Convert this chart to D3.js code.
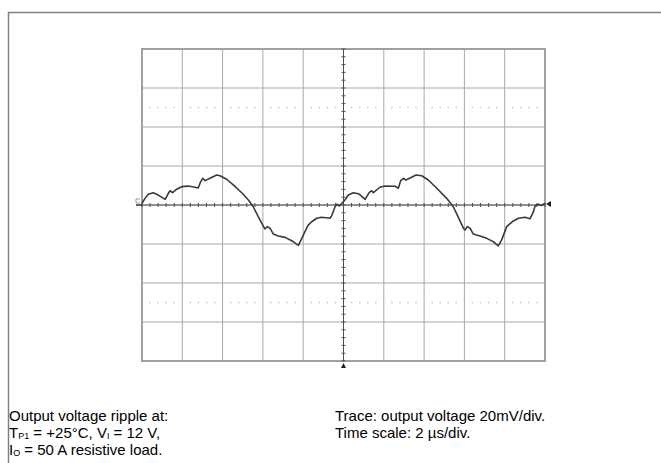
<!DOCTYPE html>
<html>
<head>
<meta charset="utf-8">
<script src="https://cdn.jsdelivr.net/npm/d3@7"></script>
<style>
  html, body { margin: 0; padding: 0; background: #fff; }
  svg { display: block; }
  text { font-family: "Liberation Sans", Arial, sans-serif; fill: #000; }
</style>
</head>
<body>
<script>
// Time axis in microseconds (2 µs/div), voltage in mV (20 mV/div)
const timeUs = [-10.0,-9.85,-9.69,-9.44,-9.19,-8.85,-8.69,-8.61,-8.48,-8.28,-8.03,-7.70,-7.37,-7.21,-7.09,-6.99,-6.87,-6.63,-6.29,-6.13,-5.80,-5.47,-5.05,-4.72,-4.48,-4.23,-3.98,-3.90,-3.78,-3.65,-3.48,-3.24,-2.90,-2.57,-2.24,-2.07,-1.83,-1.75,-1.58,-1.33,-1.08,-0.67,-0.59,-0.42,-0.34,-0.21,-0.01,0.07,0.24,0.49,0.78,1.07,1.28,1.40,1.48,1.81,2.06,2.56,2.72,2.84,2.97,3.10,3.38,3.60,3.88,4.21,4.63,5.12,5.45,5.70,5.95,6.03,6.14,6.28,6.44,6.77,7.11,7.43,7.68,7.85,8.10,8.18,8.43,8.68,9.01,9.26,9.39,9.51,9.67,9.84,10.0];
const rippleMv = [0.9,3.4,5.5,6.3,5.1,2.9,6.0,7.3,6.3,8.1,9.4,9.7,9.1,8.7,11.9,13.7,12.5,13.7,15.4,15.0,13.2,10.3,6.3,2.6,-0.9,-6.0,-10.8,-12.3,-11.1,-11.9,-14.9,-15.9,-16.6,-18.3,-20.7,-17.1,-11.9,-10.3,-8.6,-6.8,-6.3,-6.8,-5.6,-0.9,0.4,-0.5,1.7,2.6,5.1,6.3,5.6,2.9,6.5,7.3,6.3,9.1,9.7,9.6,8.6,12.5,13.7,12.8,14.2,15.4,15.0,12.8,8.6,3.4,-0.9,-6.3,-11.9,-12.8,-11.1,-11.9,-14.9,-15.9,-17.1,-18.8,-21.0,-17.9,-11.1,-10.3,-8.2,-6.8,-6.3,-7.0,-4.3,-0.5,0.4,-0.2,0.9];

const timeDomain = [-10, 10];   // 10 divisions × 2 µs
const voltDomain = [-80, 80];   // 8 divisions × 20 mV
const timePerDiv = 2;
const voltPerDiv = 20;
const dottedLevels = [-50, 50];  // dotted reference lines at ±2.5 div

const captionLeft = [
  [{t: "Output voltage ripple at:"}],
  [{t: "T"}, {t: "P1", sub: true}, {t: " = +25°C, V"}, {t: "I", sub: true}, {t: " = 12 V,"}],
  [{t: "I"}, {t: "O", sub: true}, {t: " = 50 A resistive load."}]
];
const captionRight = ["Trace: output voltage 20mV/div.", "Time scale: 2 µs/div."];

const W = 661, H = 463;
const svg = d3.select("body").append("svg").attr("width", W).attr("height", H);

// outer frame
svg.append("path").attr("d", `M8.5,${H} V12.5 H${W}`)
  .attr("fill", "none").attr("stroke", "#808080").attr("stroke-width", 1.5);

const x = d3.scaleLinear().domain(timeDomain).range([142, 545]);
const y = d3.scaleLinear().domain(voltDomain).range([361, 49]);

const g = svg.append("g");

const majorX = d3.range(timeDomain[0], timeDomain[1] + 0.001, timePerDiv);
const majorY = d3.range(voltDomain[0], voltDomain[1] + 0.001, voltPerDiv);

// grid
g.selectAll("line.gx").data(majorX.slice(1, -1)).join("line")
  .attr("x1", d => x(d)).attr("x2", d => x(d)).attr("y1", y(voltDomain[1])).attr("y2", y(voltDomain[0]))
  .attr("stroke", "#a8a8a8").attr("stroke-width", 1);
g.selectAll("line.gy").data(majorY.slice(1, -1)).join("line")
  .attr("y1", d => y(d)).attr("y2", d => y(d)).attr("x1", x(timeDomain[0])).attr("x2", x(timeDomain[1]))
  .attr("stroke", "#a8a8a8").attr("stroke-width", 1);

// dotted reference lines
const minorX = d3.range(timeDomain[0], timeDomain[1] + 0.001, timePerDiv / 5)
  .filter(d => Math.abs(d / timePerDiv - Math.round(d / timePerDiv)) > 0.01);
dottedLevels.forEach(lv => {
  g.selectAll(null).data(minorX).join("rect")
    .attr("x", d => x(d) - 0.75).attr("y", y(lv) - 0.75).attr("width", 1.5).attr("height", 1.5)
    .attr("fill", "#c8c8c8");
});

// plot border
g.append("rect").attr("x", x(timeDomain[0])).attr("y", y(voltDomain[1]))
  .attr("width", x(timeDomain[1]) - x(timeDomain[0])).attr("height", y(voltDomain[0]) - y(voltDomain[1]))
  .attr("fill", "none").attr("stroke", "#a0a0a0").attr("stroke-width", 2);

// center axes with minor ticks
g.append("line").attr("x1", x(timeDomain[0])).attr("x2", x(timeDomain[1])).attr("y1", y(0)).attr("y2", y(0))
  .attr("stroke", "#505050").attr("stroke-width", 1);
g.append("line").attr("x1", x(0)).attr("x2", x(0)).attr("y1", y(voltDomain[1])).attr("y2", y(voltDomain[0]))
  .attr("stroke", "#505050").attr("stroke-width", 1);
const ticksX = d3.range(timeDomain[0], timeDomain[1] + 0.001, timePerDiv / 5);
const ticksY = d3.range(voltDomain[0], voltDomain[1] + 0.001, voltPerDiv / 5);
g.selectAll("line.tx").data(ticksX).join("line")
  .attr("x1", d => x(d)).attr("x2", d => x(d)).attr("y1", y(0) - 2).attr("y2", y(0) + 2)
  .attr("stroke", "#505050").attr("stroke-width", 1);
g.selectAll("line.ty").data(ticksY).join("line")
  .attr("y1", d => y(d)).attr("y2", d => y(d)).attr("x1", x(0) - 2).attr("x2", x(0) + 2)
  .attr("stroke", "#505050").attr("stroke-width", 1);

// trace
const data = timeUs.map((t, i) => [t, rippleMv[i]]);
g.append("path").datum(data)
  .attr("d", d3.line().x(d => x(d[0])).y(d => y(d[1])))
  .attr("fill", "none").attr("stroke", "#3a3a3a").attr("stroke-width", 1.6)
  .attr("stroke-linejoin", "round");

// markers
const x0 = x(timeDomain[0]), xr = x(timeDomain[1]), yc = y(0), yb = y(voltDomain[0]);
g.append("path").attr("d", `M${x0 - 2},${yc - 6} H${x0 - 6} V${yc - 2} H${x0 - 2}`)
  .attr("fill", "none").attr("stroke", "#9a9a9a").attr("stroke-width", 1);
g.append("line").attr("x1", x0 - 6).attr("x2", x0).attr("y1", yc).attr("y2", yc)
  .attr("stroke", "#303030").attr("stroke-width", 1.5);
g.append("path").attr("d", `M${xr + 1},${yc - 1} L${xr + 6},${yc - 4} L${xr + 6},${yc + 2} Z`)
  .attr("fill", "#202020");
g.append("path").attr("d", `M${x(0)},${yb + 2} L${x(0) - 2.5},${yb + 7} L${x(0) + 2.5},${yb + 7} Z`)
  .attr("fill", "#202020");

// captions
const lh = 17, base = 421, fs = 15, subFs = 9, subDy = 1.2;
captionLeft.forEach((line, i) => {
  const t = svg.append("text").attr("x", 9).attr("y", base + i * lh).attr("font-size", fs);
  let prevSub = false;
  line.forEach(seg => {
    const s = t.append("tspan").text(seg.t);
    if (seg.sub) { s.attr("font-size", subFs).attr("dy", subDy); prevSub = true; }
    else if (prevSub) { s.attr("dy", -subDy); prevSub = false; }
  });
});
captionRight.forEach((s, i) => {
  svg.append("text").attr("x", 335).attr("y", base + i * lh).attr("font-size", fs).text(s);
});
</script>
</body>
</html>
